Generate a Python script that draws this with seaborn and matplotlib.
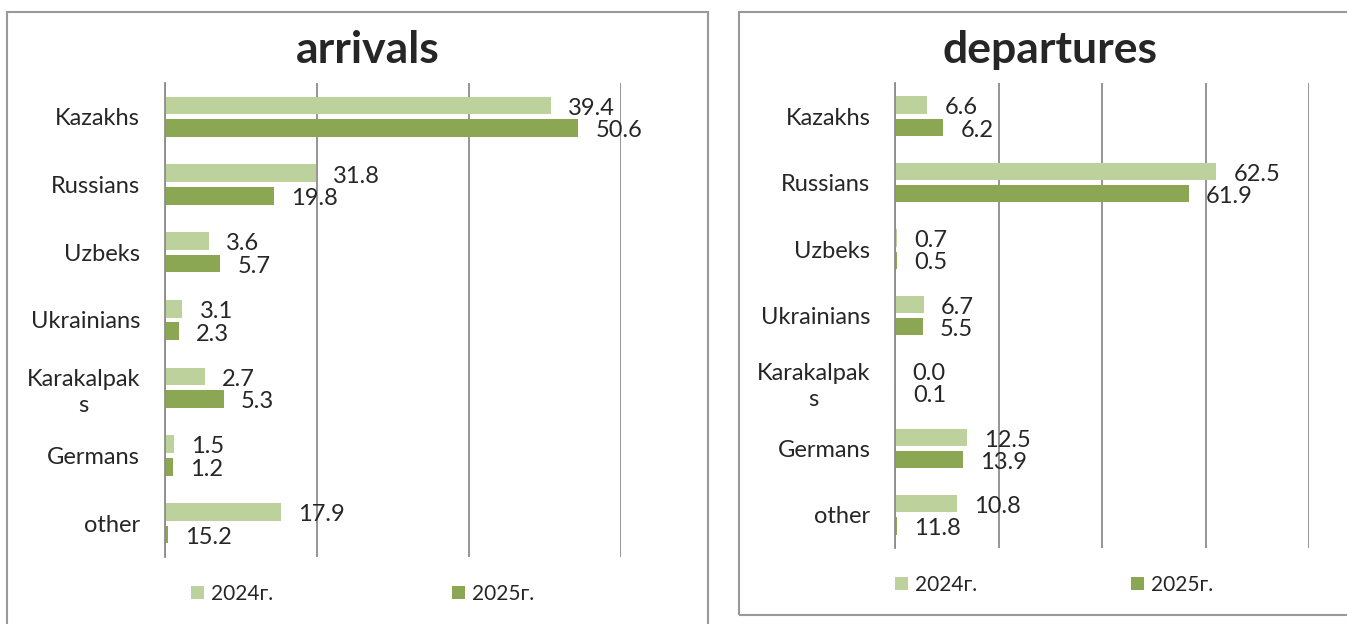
import pandas as pd
import seaborn as sns
import matplotlib.pyplot as plt
from matplotlib.patches import Rectangle

sns.set_style('white')
plt.rcParams['font.family'] = ['Lato', 'DejaVu Sans']

# categories and tick labels
categories = ['Kazakhs', 'Russians', 'Uzbeks', 'Ukrainians', 'Karakalpaks', 'Germans', 'other']
tick_labels = ['Kazakhs', 'Russians', 'Uzbeks', 'Ukrainians', 'Karakalpak\ns', 'Germans', 'other']
years = ['2024г.', '2025г.']

# arrivals: bar lengths as drawn and the printed labels (they differ in the source)
arr_2024_bar = [50.8, 19.9, 5.8, 2.3, 5.3, 1.2, 15.25]
arr_2025_bar = [54.4, 14.4, 7.3, 1.85, 7.7, 1.1, 0.35]
arr_2024_lbl = [39.4, 31.8, 3.6, 3.1, 2.7, 1.5, 17.9]
arr_2025_lbl = [50.6, 19.8, 5.7, 2.3, 5.3, 1.2, 15.2]

# departures
dep_2024_bar = [6.2, 62.1, 0.4, 5.5, 0.0, 13.9, 11.9]
dep_2025_bar = [9.3, 56.7, 0.4, 5.4, 0.1, 13.1, 0.3]
dep_2024_lbl = [6.6, 62.5, 0.7, 6.7, 0.0, 12.5, 10.8]
dep_2025_lbl = [6.2, 61.9, 0.5, 5.5, 0.1, 13.9, 11.8]

colors = {'2024г.': '#BCD19B', '2025г.': '#8BA753'}
grid_col = '#8C8C8C'

W, H = 1347, 624
fig = plt.figure(figsize=(W / 100, H / 100), dpi=100)


def make_df(b24, b25):
    return pd.DataFrame({
        'group': categories * 2,
        'value': b24 + b25,
        'year': [years[0]] * len(categories) + [years[1]] * len(categories),
    })


def draw(rect, b24, b25, l24, l25, xmax, title, title_x, leg_x, leg_y, colspace):
    ax = fig.add_axes(rect)
    df = make_df(b24, b25)
    sns.barplot(data=df, x='value', y='group', hue='year', order=categories,
                hue_order=years, palette=colors, width=0.67, gap=0.22,
                linewidth=0, saturation=1, ax=ax)
    for cont, lbls in zip(ax.containers, [l24, l25]):
        anns = ax.bar_label(cont, labels=[f'{v:.1f}' for v in lbls], padding=12.2,
                            fontsize=17, clip_on=False)
        # labels sit a touch below the bar centre in the original
        for a in anns:
            a.xyann = (a.xyann[0], -2)
    ax.set_xlim(0, xmax)
    ax.set_xticks(range(0, xmax + 1, 20))
    ax.set_xticklabels([])
    ax.grid(axis='x', color=grid_col, linewidth=1.3)
    ax.set_axisbelow(True)
    ax.tick_params(axis='both', length=0)
    ax.tick_params(axis='y', pad=18, labelsize=17)
    ax.set_yticks(range(len(categories)))
    ax.set_yticklabels(tick_labels)
    for t in ax.get_yticklabels():
        t.set_multialignment('center')
        t.set_linespacing(1.3)
    for s in ['top', 'right', 'bottom']:
        ax.spines[s].set_visible(False)
    ax.spines['left'].set_color(grid_col)
    ax.spines['left'].set_linewidth(1.3)
    ax.set_xlabel('')
    ax.set_ylabel('')
    sns.move_legend(ax, 'center left', bbox_to_anchor=(leg_x / W, 1 - leg_y / H),
                    bbox_transform=fig.transFigure, ncol=2, frameon=False, title=None,
                    fontsize=15, handlelength=0.63, handleheight=0.63,
                    handletextpad=0.35, columnspacing=colspace,
                    borderpad=0, borderaxespad=0)
    fig.text(title_x / W, 1 - 63 / H, title, fontsize=32, fontweight='bold',
             ha='center', va='baseline')
    return ax


draw([165 / W, 1 - 557 / H, (621 - 165) / W, (557 - 83) / H],
     arr_2024_bar, arr_2025_bar, arr_2024_lbl, arr_2025_lbl, 60,
     'arrivals', 368, 191, 594, 8.56)
draw([895.3 / W, 1 - 548 / H, (1309 - 895.3) / W, (548 - 83) / H],
     dep_2024_bar, dep_2025_bar, dep_2024_lbl, dep_2025_lbl, 80,
     'departures', 1050, 895, 585, 7.36)

# chart frames
fig.add_artist(Rectangle((7 / W, 1 - 640 / H), (708 - 7) / W, (640 - 12) / H,
                         transform=fig.transFigure, fill=False, ec='#999999', lw=1.5))
fig.add_artist(Rectangle((739 / W, 1 - 615 / H), (1370 - 739) / W, (615 - 12) / H,
                         transform=fig.transFigure, fill=False, ec='#999999', lw=1.5))

fig.savefig('out.png', dpi=100)
